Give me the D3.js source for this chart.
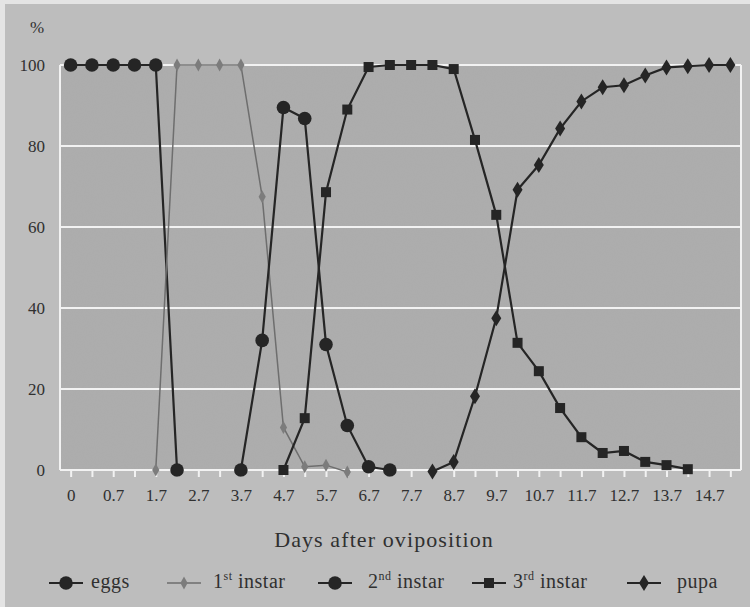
<!DOCTYPE html>
<html>
<head>
<meta charset="utf-8">
<script src="https://cdn.jsdelivr.net/npm/d3@7"></script>
<style>
  html, body { margin: 0; padding: 0; background: #e4e4e4; }
  svg { display: block; }
  text { font-family: "Liberation Serif", "DejaVu Serif", serif; fill: #303030; }
</style>
</head>
<body>
<svg id="chart" width="750" height="607"></svg>
<script>
// day categories (one every half day, labels shown every second one)
var days = ["0","0.2","0.7","1.2","1.7","2.2","2.7","3.2","3.7","4.2","4.7","5.2","5.7","6.2","6.7","7.2",
            "7.7","8.2","8.7","9.2","9.7","10.2","10.7","11.2","11.7","12.2","12.7","13.2","13.7","14.2","14.7","15.2"];
var dayLabels = ["0","0.7","1.7","2.7","3.7","4.7","5.7","6.7","7.7","8.7","9.7","10.7","11.7","12.7","13.7","14.7"];
var yTicks = [0, 20, 40, 60, 80, 100];

// percentages per stage, null = no point
var eggs   = [100,100,100,100,100,0,null,null,null,null,null,null,null,null,null,null,
              null,null,null,null,null,null,null,null,null,null,null,null,null,null,null,null];
var first  = [null,null,null,null,0,100,100,100,100,67.5,10.5,0.8,1.2,-0.5,null,null,
              null,null,null,null,null,null,null,null,null,null,null,null,null,null,null,null];
var second = [null,null,null,null,null,null,null,null,0,32,89.5,86.8,31,11,0.8,0,
              null,null,null,null,null,null,null,null,null,null,null,null,null,null,null,null];
var third  = [null,null,null,null,null,null,null,null,null,null,0,12.8,68.6,89,99.5,100,
              100,100,99,81.5,63,31.4,24.4,15.3,8.1,4.2,4.7,2,1.2,0.2,null,null];
var pupa   = [null,null,null,null,null,null,null,null,null,null,null,null,null,null,null,null,
              null,-0.4,2,18.2,37.5,69.2,75.3,84.3,91,94.5,95,97.4,99.4,99.7,100,100];

var series = [
  {name: "eggs", sup: "",   values: eggs,   marker: "circle",  color: "#252525", width: 2.2},
  {name: "1",    sup: "st", values: first,  marker: "thin",    color: "#6e6e6e", width: 1.5},
  {name: "2",    sup: "nd", values: second, marker: "circle",  color: "#252525", width: 2.2},
  {name: "3",    sup: "rd", values: third,  marker: "square",  color: "#252525", width: 2.2},
  {name: "pupa", sup: "",   values: pupa,   marker: "diamond", color: "#252525", width: 2.2}
];

var svg = d3.select("#chart");
var W = 750, H = 607;
var pLeft = 60, pRight = 741, pTop = 65, pBottom = 470;

// texture for the scanned paper look
var defs = svg.append("defs");
var f = defs.append("filter").attr("id", "grain").attr("x", 0).attr("y", 0).attr("width", "100%").attr("height", "100%");
f.append("feTurbulence").attr("type", "fractalNoise").attr("baseFrequency", 0.9).attr("numOctaves", 2).attr("seed", 4);
f.append("feColorMatrix").attr("type", "matrix")
  .attr("values", "0 0 0 0 0.5  0 0 0 0 0.5  0 0 0 0 0.5  0 0 0 0.07 0");

svg.append("rect").attr("x", 5).attr("y", 4).attr("width", W - 5).attr("height", H - 4).attr("fill", "#bdbdbd");
svg.append("rect").attr("x", pLeft).attr("y", pTop).attr("width", pRight - pLeft).attr("height", pBottom - pTop).attr("fill", "#acacac");
svg.append("rect").attr("x", 5).attr("y", 4).attr("width", W - 5).attr("height", H - 4).attr("filter", "url(#grain)");

var x = d3.scalePoint().domain(days).range([pLeft, pRight]).padding(0.5);
var y = d3.scaleLinear().domain([0, 100]).range([pBottom, pTop]);

// grid
svg.append("g").selectAll("line").data(yTicks).enter().append("line")
  .attr("x1", pLeft).attr("x2", pRight)
  .attr("y1", function(d) { return y(d); }).attr("y2", function(d) { return y(d); })
  .attr("stroke", "#f2f2f2").attr("stroke-width", 2);
svg.append("line").attr("x1", pLeft).attr("x2", pLeft).attr("y1", pTop).attr("y2", pBottom)
  .attr("stroke", "#f2f2f2").attr("stroke-width", 2);
svg.append("line").attr("x1", pRight).attr("x2", pRight).attr("y1", pTop).attr("y2", pBottom)
  .attr("stroke", "#f2f2f2").attr("stroke-width", 2);

// x axis
var xAxis = d3.axisBottom(x).tickSize(7).tickPadding(12)
  .tickFormat(function(d) { return dayLabels.indexOf(d) >= 0 ? d : ""; });
var gx = svg.append("g").attr("transform", "translate(0," + pBottom + ")").call(xAxis);
gx.select(".domain").remove();
gx.selectAll(".tick line").attr("stroke", "#f2f2f2").attr("stroke-width", 2);
gx.selectAll(".tick text").attr("font-size", 17).attr("fill", "#303030")
  .attr("font-family", "'Liberation Serif', serif");

// y axis
var yAxis = d3.axisLeft(y).tickValues(yTicks).tickSize(0).tickPadding(15);
var gy = svg.append("g").attr("transform", "translate(" + pLeft + ",0)").call(yAxis);
gy.select(".domain").remove();
gy.selectAll(".tick text").attr("font-size", 17).attr("fill", "#303030")
  .attr("font-family", "'Liberation Serif', serif");

svg.append("text").attr("x", 37).attr("y", 33).attr("text-anchor", "middle").attr("font-size", 17).text("%");
svg.append("text").attr("x", 384).attr("y", 547).attr("text-anchor", "middle").attr("font-size", 22)
  .attr("letter-spacing", 1.1).text("Days after oviposition");

function drawMarker(g, type, color) {
  if (type === "circle") {
    g.append("circle").attr("r", 6.8).attr("fill", color);
  } else if (type === "square") {
    g.append("rect").attr("x", -5).attr("y", -5).attr("width", 10).attr("height", 10).attr("fill", color);
  } else if (type === "diamond") {
    g.append("path").attr("d", "M0,-8L5,0L0,8L-5,0Z").attr("fill", color);
  } else {
    g.append("path").attr("d", "M0,-6.5L3.6,0L0,6.5L-3.6,0Z").attr("fill", "#7c7c7c");
  }
}

var line = d3.line()
  .defined(function(d) { return d.v !== null; })
  .x(function(d) { return x(d.day); })
  .y(function(d) { return y(d.v); });

series.forEach(function(s) {
  var pts = s.values.map(function(v, i) { return {day: days[i], v: v}; });
  svg.append("path").datum(pts).attr("d", line)
    .attr("fill", "none").attr("stroke", s.color).attr("stroke-width", s.width);
  pts.filter(function(d) { return d.v !== null; }).forEach(function(d) {
    var g = svg.append("g").attr("transform", "translate(" + x(d.day) + "," + y(d.v) + ")");
    drawMarker(g, s.marker, s.color);
  });
});

// legend
var legendX = [49, 167, 318, 472, 627];
var legendText = [42, 46, 50, 41, 50];
var ly = 583;
series.forEach(function(s, i) {
  var g = svg.append("g").attr("transform", "translate(" + legendX[i] + "," + ly + ")");
  g.append("line").attr("x1", 0).attr("x2", 34).attr("y1", 0).attr("y2", 0)
    .attr("stroke", s.color).attr("stroke-width", s.width);
  var m = g.append("g").attr("transform", "translate(17,0)");
  drawMarker(m, s.marker, s.color);
  var t = g.append("text").attr("x", legendText[i]).attr("y", 5).attr("font-size", 20)
    .attr("letter-spacing", 0.5);
  if (s.sup) {
    t.append("tspan").text(s.name);
    t.append("tspan").attr("font-size", 12).attr("dy", -8).text(s.sup);
    t.append("tspan").attr("dy", 8).text(" instar");
  } else {
    t.text(s.name);
  }
});
</script>
</body>
</html>
